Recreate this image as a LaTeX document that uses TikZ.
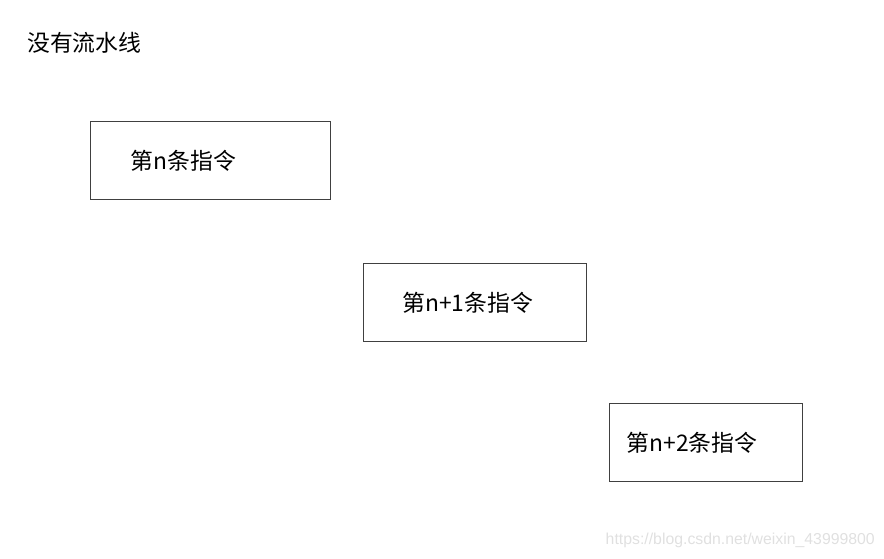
\documentclass[tikz,border=0pt]{standalone}
\usepackage{fontspec}
\newfontfamily\cjk{Noto Sans CJK SC}
\newfontfamily\wmfont{Liberation Sans}
\begin{document}
\begin{tikzpicture}[font=\cjk\fontsize{13}{15}\selectfont,
 instr/.style={draw=black!75,line width=0.6pt,anchor=west,
 minimum height=1.56cm,inner ysep=0pt,align=left}]
 \useasboundingbox (0,0) rectangle (17.68,11.18);
 \node[anchor=west] (title) at (0.42,10.32) {没有流水线};
 \node[instr,inner xsep=0.8cm,text width=3.2cm] (i0) at (1.8,7.97) {第n条指令};
 \node[instr,inner xsep=0.78cm,text width=2.9cm] (i1) at (7.26,5.13) {第n+1条指令};
 \node[instr,inner xsep=0.34cm,text width=3.18cm] (i2) at (12.18,2.33) {第n+2条指令};
 \node[anchor=east,font=\wmfont\fontsize{9}{11}\selectfont,text=black!12] (mark)
  at (17.62,0.38) {https://blog.csdn.net/weixin\_43999800};
\end{tikzpicture}
\end{document}
